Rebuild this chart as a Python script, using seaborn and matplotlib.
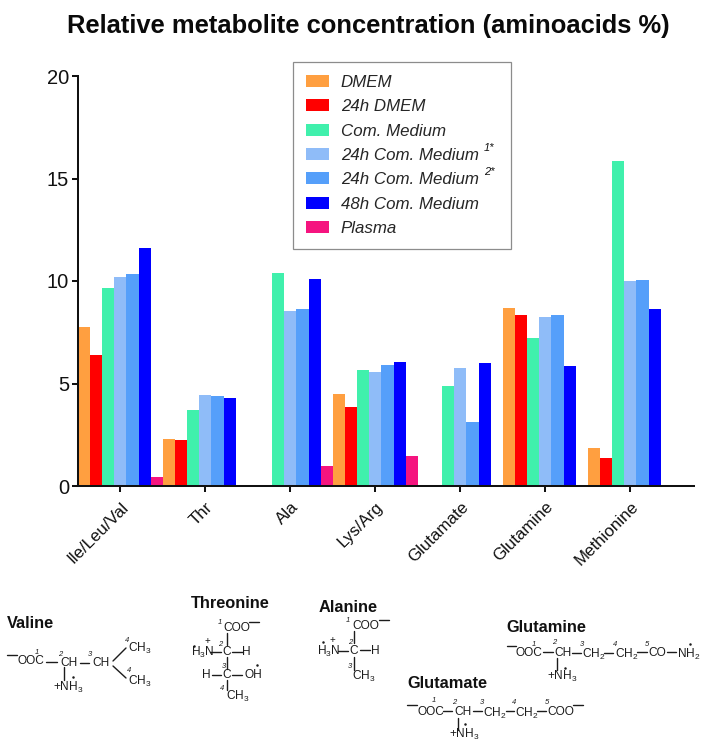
#!/usr/bin/env python3
"""Relative metabolite concentration bars with amino acid structures below
"""

import pandas as pd
import matplotlib.pyplot as plt
from matplotlib.lines import Line2D
from matplotlib.patches import Rectangle
import seaborn as sns

W, H = 707, 747

amino_acids = ['Ile/Leu/Val', 'Thr', 'Ala', 'Lys/Arg', 'Glutamate', 'Glutamine', 'Methionine']
nan = float('nan')
dmem = [7.75, 2.3, nan, 4.5, nan, 8.7, 1.85]
dmem_24h = [6.4, 2.25, nan, 3.85, nan, 8.35, 1.35]
com_medium = [9.65, 3.7, 10.4, 5.65, 4.9, 7.2, 15.85]
com_24h_1 = [10.2, 4.45, 8.55, 5.55, 5.75, 8.25, 10.0]
com_24h_2 = [10.35, 4.38, 8.65, 5.9, 3.1, 8.35, 10.05]
com_48h = [11.6, 4.3, 10.1, 6.05, 6.0, 5.85, 8.65]
plasma = [0.45, nan, 1.0, 1.45, nan, nan, nan]

series_names = ['DMEM', '24h DMEM', 'Com. Medium', '24h Com. Medium 1', '24h Com. Medium 2',
                '48h Com. Medium', 'Plasma']
legend_labels = ['DMEM', '24h DMEM', 'Com. Medium', '24h Com. Medium', '24h Com. Medium',
                 '48h Com. Medium', 'Plasma']
series_values = [dmem, dmem_24h, com_medium, com_24h_1, com_24h_2, com_48h, plasma]
colors = ['#ff9f40', '#ff0000', '#40f0ac', '#8fbcf8', '#559ffa', '#0000ff', '#f5147f']
legend_supers = [(484, 148, '1*'), (484, 172, '2*')]

# chemical structures, pixel positions of the drawing: (x, y, text)
struct_labels = [(7, 623, 'Valine'), (191, 603, 'Threonine'), (319, 607, 'Alanine'),
                 (506, 628, 'Glutamine'), (407, 683, 'Glutamate')]
struct_text = [
    (17, 661, 'OOC'), (60, 663, 'CH'), (92, 663, 'CH'), (128, 648, 'CH$_3$'), (128, 681, 'CH$_3$'),
    (53, 687, '+NH$_3$'),
    (223, 628, 'COO'), (191, 652, 'H$_3$N'), (222, 652, 'C'), (242, 652, 'H'), (202, 675, 'H'),
    (222, 675, 'C'), (245, 675, 'OH'), (226, 696, 'CH$_3$'),
    (352, 626, 'COO'), (317, 651, 'H$_3$N'), (349, 651, 'C'), (371, 651, 'H'), (352, 676, 'CH$_3$'),
    (516, 653, 'OOC'), (554, 653, 'CH'), (582, 654, 'CH$_2$'), (615, 654, 'CH$_2$'), (648, 653, 'CO'),
    (677, 654, 'NH$_2$'), (547, 676, '+NH$_3$'),
    (417, 712, 'OOC'), (454, 712, 'CH'), (483, 713, 'CH$_2$'), (515, 713, 'CH$_2$'), (547, 712, 'COO'),
    (449, 734, '+NH$_3$'),
]
struct_numbers = [
    (37, 652, '1'), (60, 654, '2'), (90, 655, '3'), (127, 640, '4'), (129, 671, '4'),
    (220, 623, '1'), (220, 644, '2'), (224, 666, '3'), (222, 689, '4'),
    (348, 620, '1'), (350, 642, '2'), (350, 666, '3'),
    (534, 644, '1'), (554, 643, '2'), (582, 644, '3'), (615, 644, '4'), (647, 644, '5'),
    (434, 701, '1'), (454, 702, '2'), (482, 703, '3'), (514, 702, '4'), (547, 703, '5'),
]
struct_dots = [(73, 677), (194, 646), (257, 665), (323, 642), (690, 644), (565, 668), (465, 724)]
struct_plus = [(207, 641), (332, 640)]
struct_lines = [
    (7, 655, 17, 655), (46, 662, 57, 662), (64, 667, 64, 680), (80, 663, 89, 663),
    (113, 661, 126, 648), (113, 666, 126, 678),
    (249, 622, 259, 622), (227, 633, 227, 645), (210, 652, 221, 652), (232, 652, 243, 652),
    (227, 657, 227, 669), (212, 675, 221, 675), (232, 675, 242, 675), (227, 680, 227, 690),
    (379, 620, 389, 620), (354, 631, 354, 643), (338, 651, 348, 651), (360, 650, 370, 650),
    (354, 657, 354, 670),
    (507, 646, 516, 646), (543, 652, 553, 652), (557, 658, 557, 670), (572, 653, 581, 653),
    (604, 653, 613, 653), (637, 652, 647, 652), (667, 652, 676, 652),
    (407, 705, 417, 705), (443, 711, 452, 711), (458, 718, 458, 730), (473, 711, 482, 711),
    (506, 711, 514, 711), (537, 711, 546, 711), (573, 705, 583, 705),
]


def px(x, y):
    """Pixel position from the top left to figure fraction
    """
    return x / W, 1 - y / H


def draw_structures(fig):
    """Structures are plain figure text and short lines
    """
    ink = '#1c1c1c'
    for x, y, s in struct_labels:
        fig.text(*px(x, y), s, fontsize=11.8, fontweight='bold', va='center', color='#111111')
    for x, y, s in struct_text:
        fig.text(*px(x, y), s, fontsize=8.6, va='center', color=ink)
    for x, y, s in struct_numbers:
        fig.text(*px(x, y), s, fontsize=5.5, style='italic', ha='center', va='center', color=ink)
    for x, y in struct_plus:
        fig.text(*px(x, y), '+', fontsize=7, ha='center', va='center', color=ink)
    for x, y in struct_dots:
        a, b = px(x, y)
        fig.add_artist(Line2D([a], [b], marker='o', ms=1.8, mew=0, color=ink))
    for x0, y0, x1, y1 in struct_lines:
        (a, b), (c, d) = px(x0, y0), px(x1, y1)
        fig.add_artist(Line2D([a, c], [b, d], color=ink, lw=1.0))


def main():
    """Plot the bars and the structures
    """
    sns.set_style('ticks')
    plt.rcParams['font.family'] = ['Liberation Sans', 'DejaVu Sans']
    plt.rcParams['mathtext.fontset'] = 'custom'
    plt.rcParams['mathtext.rm'] = 'Liberation Sans'
    plt.rcParams['mathtext.it'] = 'Liberation Sans:italic'
    plt.rcParams['mathtext.default'] = 'rm'

    frames = [pd.DataFrame({'Amino acid': amino_acids, 'Series': name, 'Value': values})
              for name, values in zip(series_names, series_values)]
    df = pd.concat(frames, ignore_index=True)

    fig = plt.figure(figsize=(W / 100, H / 100), dpi=100)
    left, bottom = px(77.5, 486)
    right, top = px(694, 76)
    ax = fig.add_axes([left, bottom, right - left, top - bottom])

    sns.barplot(data=df, x='Amino acid', y='Value', hue='Series', hue_order=series_names,
                order=amino_acids, palette=colors, width=1, gap=0, linewidth=0,
                saturation=1, errorbar=None, ax=ax)

    ax.set_xlim(-0.505, 6.748)
    ax.set_ylim(0, 20)
    ax.set_yticks([0, 5, 10, 15, 20])
    ax.set_xlabel('')
    ax.set_ylabel('')
    sns.despine(ax=ax)
    for side in ['left', 'bottom']:
        ax.spines[side].set_linewidth(1.45)
        ax.spines[side].set_color('#111111')
    ax.tick_params(axis='y', labelsize=14.5, width=1.45, length=4.5, pad=1.5, colors='#111111')
    ax.tick_params(axis='x', labelsize=12.2, width=1.45, length=4.5, pad=5, colors='#111111')
    for label in ax.get_xticklabels():
        label.set_rotation(45)
        label.set_ha('right')
        label.set_rotation_mode('anchor')

    handles, _ = ax.get_legend_handles_labels()
    ax.legend(handles, legend_labels, loc='upper left', bbox_to_anchor=px(293, 62),
              bbox_transform=fig.transFigure, frameon=False, prop={'size': 12.2, 'style': 'italic'},
              handlelength=1.36, handleheight=0.73, handletextpad=0.7,
              labelspacing=0.55, borderpad=0.76, borderaxespad=0)
    x0, y0 = px(292.5, 249.5)
    x1, y1 = px(511, 62)
    ax.add_patch(Rectangle((x0, y0), x1 - x0, y1 - y0, transform=fig.transFigure, clip_on=False,
                           facecolor='white', edgecolor='#8c8c8c', linewidth=0.9, zorder=4))
    for x, y, s in legend_supers:
        fig.text(*px(x, y), s, fontsize=8, style='italic', va='center', color='#111111')

    fig.text(*px(368.5, 26), 'Relative metabolite concentration (aminoacids %)',
             fontsize=18.4, fontweight='bold', ha='center', va='center', color='#0a0a0a')

    draw_structures(fig)
    fig.savefig('out.png', dpi=100)


if __name__ == '__main__':
    main()
